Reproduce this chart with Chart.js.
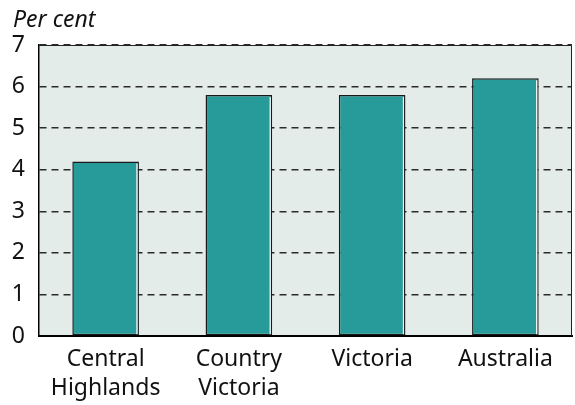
<!DOCTYPE html>
<html><head><meta charset="utf-8">
<script src="https://cdn.jsdelivr.net/npm/chart.js@4/dist/chart.umd.min.js"></script>
<style>html,body{margin:0;padding:0;background:#fff}#wrap{width:575px;height:405px}</style>
</head><body><div id="wrap"><canvas id="c" width="575" height="405"></canvas></div>
<script>
const categories = [["Central","Highlands"],["Country","Victoria"],["Victoria"],["Australia"]];
const values = [4.2, 5.8, 5.8, 6.2];
const yTicks = [0,1,2,3,4,5,6,7];
const unitLabel = "Per cent";
const FONT = '"Noto Sans"';

const plotBg = {
  id:'plotBg',
  beforeDraw(chart){
    const {ctx, chartArea:a} = chart;
    ctx.save();
    ctx.fillStyle = '#e4ecea';
    ctx.fillRect(a.left, a.top, a.right-a.left, a.bottom-a.top);
    ctx.restore();
  },
  afterDatasetsDraw(chart){
    const {ctx} = chart;
    const meta = chart.getDatasetMeta(0);
    ctx.save();
    ctx.strokeStyle = '#ffffff';
    ctx.lineWidth = 1.2;
    meta.data.forEach(b=>{
      const p = b.getProps(['x','y','base','width']);
      const xr = p.x + p.width/2 - 2;
      ctx.beginPath();
      ctx.moveTo(xr, p.y+2);
      ctx.lineTo(xr, p.base-1);
      ctx.stroke();
    });
    ctx.restore();
  },
  afterDraw(chart){
    const {ctx, chartArea:a} = chart;
    ctx.save();
    ctx.strokeStyle = '#222';
    ctx.lineWidth = 1;
    ctx.beginPath();
    ctx.moveTo(a.left, a.top+0.5); ctx.lineTo(a.right-0.5, a.top+0.5); ctx.lineTo(a.right-0.5, a.bottom);
    ctx.stroke();
    ctx.font = 'italic 23px ' + FONT;
    ctx.fillStyle = '#111';
    ctx.textBaseline = 'alphabetic';
    ctx.fillText(unitLabel, 13, 27);
    ctx.restore();
  }
};

new Chart(document.getElementById('c'), {
  type:'bar',
  data:{labels:categories, datasets:[{data:values, backgroundColor:'#279a9a', borderColor:'#1a1a1a', borderWidth:1.5, barPercentage:0.5, categoryPercentage:1.0, borderSkipped:false}]},
  options:{
    responsive:false, animation:false, devicePixelRatio:1,
    layout:{padding:{top:45, right:3, left:0, bottom:0}},
    plugins:{legend:{display:false}, tooltip:{enabled:false}},
    scales:{
      x:{
        grid:{display:false, drawTicks:false},
        border:{display:true, color:'#000', width:2},
        ticks:{font:{family:'Noto Sans', size:23, lineHeight:1.26}, color:'#111', padding:9},
        afterFit(s){ s.height = 69; }
      },
      y:{
        min:0, max:7,
        afterBuildTicks(s){ s.ticks = yTicks.map(v=>({value:v})); },
        grid:{color:'#2a2a2a', lineWidth:1.5, drawTicks:false},
        border:{display:true, color:'#000', width:1.5, dash:[7,5]},
        ticks:{font:{family:'Noto Sans', size:23}, color:'#111', padding:14},
        afterFit(s){ s.width = 39; }
      }
    }
  },
  plugins:[plotBg]
});
</script></body></html>
